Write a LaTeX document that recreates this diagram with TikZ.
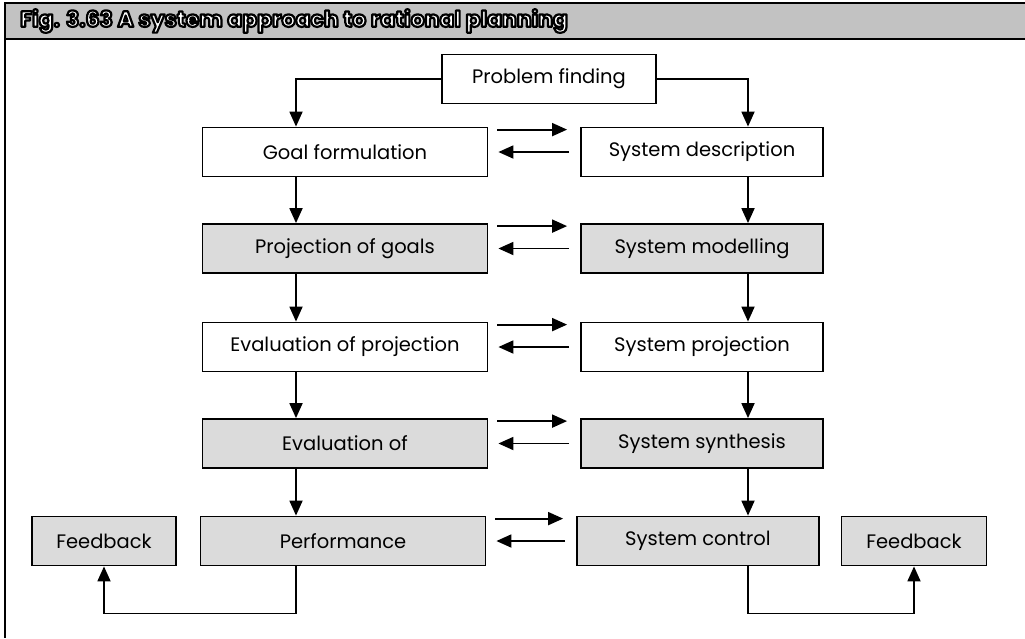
\documentclass[tikz,border=0pt]{standalone}
\usepackage{fontspec}
\setmainfont{Poppins}
\usetikzlibrary{arrows.meta}
% outlined lettering: fill white, stroke black
\newcommand{\outlinedtext}[1]{%
  {\color{white}\special{pdf:literal direct 2 Tr 2.2 w 1 j 0 G}#1\special{pdf:literal direct 0 Tr 0 w 0 j}}}
\begin{document}
\begin{tikzpicture}[x=1pt,y=-1pt,
  box/.style={draw=black, line width=1.8pt, minimum height=49pt, inner sep=0pt,
              font=\fontsize{19.5}{22}\selectfont, fill=white},
  leftbox/.style={box, minimum width=285pt},
  rightbox/.style={box, minimum width=242pt},
  shaded/.style={fill=black!14},
  arr/.style={line width=1.8pt, -{Triangle[length=15pt,width=13pt]}},
]
\useasboundingbox (0,0) rectangle (1025,638);

% title bar and frame
\fill[black!24] (5,3) rectangle (1025,39);
\draw[line width=1.4pt] (1025,3) -- (5,3) -- (5,638);
\draw[line width=1.4pt] (5,39) -- (1025,39);
\node[anchor=west, inner sep=0pt, font=\fontsize{22}{24}\selectfont\bfseries] (title) at (20,21)
  {\outlinedtext{Fig. 3.63 A system approach to rational planning}};

% boxes
\node[box, minimum width=214pt] (pf) at (549,79) {Problem finding};

\node[leftbox] (gf) at (345,152) {Goal formulation};
\node[rightbox] (sd) at (702,152) {System description};

\node[leftbox, shaded] (pg) at (345,248.5) {Projection of goals};
\node[rightbox, shaded] (sm) at (702,248.5) {System modelling};

\node[leftbox] (ep) at (345,347) {Evaluation of projection};
\node[rightbox] (sp) at (702,347) {System projection};

\node[leftbox, shaded] (eo) at (345,443.5) {Evaluation of};
\node[rightbox, shaded] (ss) at (702,443.5) {System synthesis};

\node[leftbox, shaded] (pe) at (343,541) {Performance};
\node[rightbox, shaded] (sc) at (698,541) {System control};

\node[box, shaded, minimum width=144pt] (fl) at (104,541) {Feedback};
\node[box, shaded, minimum width=145pt] (fr) at (914,541) {Feedback};

% column lines for the vertical flow
\coordinate (lc) at (296,0);
\coordinate (rc) at (748,0);

% from problem finding to both columns
\draw[arr] (pf.west) -| (gf.north -| lc);
\draw[arr] (pf.east) -| (sd.north -| rc);

% downward flow in each column
\foreach \a/\b in {gf/pg, pg/ep, ep/eo, eo/pe}
  \draw[arr] (\a.south -| lc) -- (\b.north -| lc);
\foreach \a/\b in {sd/sm, sm/sp, sp/ss, ss/sc}
  \draw[arr] (\a.south -| rc) -- (\b.north -| rc);

% two-way exchange between the columns
\foreach \l/\r in {gf/sd, pg/sm, ep/sp, eo/ss, pe/sc} {
  \draw[arr] ([xshift=9pt,yshift=-3pt]\l.north east) -- ([xshift=-13pt,yshift=-3pt]\r.north west);
  \draw[arr] ([xshift=-11pt]\r.west) -- ([xshift=10pt]\l.east);
}

% feedback loops
\draw[arr] (pe.south -| lc) -- ++(0,47) -| (fl.south);
\draw[arr] (sc.south -| rc) -- ++(0,47) -| (fr.south);
\end{tikzpicture}
\end{document}
